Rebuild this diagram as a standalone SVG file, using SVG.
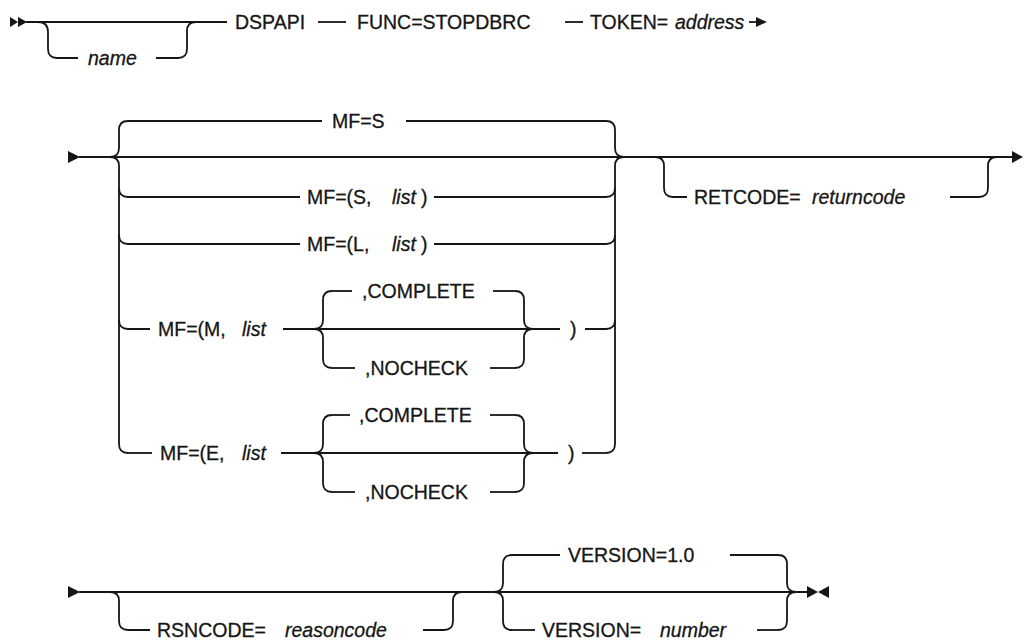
<svg xmlns="http://www.w3.org/2000/svg" width="1024" height="641" viewBox="0 0 1024 641">
<style>
text{font-family:"Liberation Sans",Arial,sans-serif;font-size:19.5px;fill:#161616;stroke:#161616;stroke-width:0.3}
.v{font-style:italic}
.ln{fill:none;stroke:#161616;stroke-width:1.8}
.ah{fill:#161616;stroke:none}
</style>
<rect width="1024" height="641" fill="#fff"/>
<g id="connectors">
<!-- row 1 -->
<polygon class="ah" points="10,17 18,22 10,27"/>
<polygon class="ah" points="18,17 27,22 18,27"/>
<path class="ln" d="M26,22 H227"/>
<path class="ln" d="M38,22 Q48,22 48,32 V49 Q48,58 57,58 H78"/>
<path class="ln" d="M156,58 H178 Q187,58 187,49 V31 Q187,22 196,22"/>
<path class="ln" d="M318,22 H346"/>
<path class="ln" d="M565,22 H583"/>
<path class="ln" d="M749,22 H758"/>
<polygon class="ah" points="756,17 767,22 756,27"/>
<!-- row 2 -->
<polygon class="ah" points="68,151 80,157 68,163"/>
<path class="ln" d="M79,157 H1014"/>
<polygon class="ah" points="1012,151 1023,157 1012,163"/>
<path class="ln" d="M128,121 Q119,121 119,130 V148 Q119,157 110,157 Q119,157 119,166 V444 Q119,453 128,453"/>
<path class="ln" d="M119,188 Q119,197 128,197 H300"/>
<path class="ln" d="M119,235 Q119,244 128,244 H300"/>
<path class="ln" d="M119,320 Q119,329 128,329 H150"/>
<path class="ln" d="M128,453 H152"/>
<path class="ln" d="M128,121 H322"/>
<path class="ln" d="M406,121 H606"/>
<path class="ln" d="M434,197 H606 Q615,197 615,188"/>
<path class="ln" d="M434,244 H606 Q615,244 615,235"/>
<path class="ln" d="M606,121 Q615,121 615,130 V148 Q615,157 624,157 Q615,157 615,166 V444 Q615,453 606,453"/>
<!-- MF=(M inner -->
<path class="ln" d="M283,329 H560"/>
<path class="ln" d="M332,291 Q323,291 323,300 V320 Q323,329 314,329 Q323,329 323,338 V359 Q323,368 332,368"/>
<path class="ln" d="M332,291 H352"/>
<path class="ln" d="M493,291 H515"/>
<path class="ln" d="M332,368 H355"/>
<path class="ln" d="M490,368 H515"/>
<path class="ln" d="M515,291 Q524,291 524,300 V320 Q524,329 533,329 Q524,329 524,338 V359 Q524,368 515,368"/>
<path class="ln" d="M585,329 H606 Q615,329 615,320"/>
<!-- MF=(E inner -->
<path class="ln" d="M281,453 H558"/>
<path class="ln" d="M332,415 Q323,415 323,424 V444 Q323,453 314,453 Q323,453 323,462 V483 Q323,492 332,492"/>
<path class="ln" d="M332,415 H350"/>
<path class="ln" d="M490,415 H515"/>
<path class="ln" d="M332,492 H355"/>
<path class="ln" d="M490,492 H515"/>
<path class="ln" d="M515,415 Q524,415 524,424 V444 Q524,453 533,453 Q524,453 524,462 V483 Q524,492 515,492"/>
<path class="ln" d="M582,453 H606"/>
<!-- RETCODE -->
<path class="ln" d="M655,157 Q664,157 664,166 V188 Q664,197 673,197 H687"/>
<path class="ln" d="M950,197 H979 Q988,197 988,188 V166 Q988,157 997,157"/>
<!-- row 3 -->
<polygon class="ah" points="68,586 80,592 68,598"/>
<path class="ln" d="M79,592 H808"/>
<polygon class="ah" points="807,586 818,592 807,598"/>
<polygon class="ah" points="829,586 818,592 829,598"/>
<path class="ln" d="M110,592 Q119,592 119,601 V621 Q119,630 128,630 H150"/>
<path class="ln" d="M423,630 H444 Q453,630 453,621 V601 Q453,592 462,592"/>
<path class="ln" d="M512,555 Q503,555 503,564 V583 Q503,592 494,592 Q503,592 503,601 V621 Q503,630 512,630"/>
<path class="ln" d="M512,555 H560"/>
<path class="ln" d="M730,555 H778"/>
<path class="ln" d="M512,630 H535"/>
<path class="ln" d="M757,630 H778"/>
<path class="ln" d="M778,555 Q787,555 787,564 V583 Q787,592 796,592 Q787,592 787,601 V621 Q787,630 778,630"/>
</g>
<g id="name"><text class="v" x="88" y="65">name</text></g>
<g id="dspapi"><text x="235" y="29">DSPAPI</text></g>
<g id="func"><text x="357" y="29">FUNC=STOPDBRC</text></g>
<g id="token"><text x="590" y="29">TOKEN=</text><text class="v" x="675" y="29">address</text></g>
<g id="mf-s"><text x="332" y="128">MF=S</text></g>
<g id="mf-s-list"><text x="307" y="204">MF=(S,</text><text class="v" x="392" y="204">list</text><text x="421" y="204">)</text></g>
<g id="mf-l-list"><text x="307" y="251">MF=(L,</text><text class="v" x="392" y="251">list</text><text x="421" y="251">)</text></g>
<g id="mf-m-list"><text x="158" y="336">MF=(M,</text><text class="v" x="242" y="336">list</text></g>
<g id="m-complete"><text x="362" y="298">,COMPLETE</text></g>
<g id="m-nocheck"><text x="365" y="375">,NOCHECK</text></g>
<g id="m-close"><text x="570" y="336">)</text></g>
<g id="mf-e-list"><text x="160" y="460">MF=(E,</text><text class="v" x="242" y="460">list</text></g>
<g id="e-complete"><text x="359" y="422">,COMPLETE</text></g>
<g id="e-nocheck"><text x="365" y="499">,NOCHECK</text></g>
<g id="e-close"><text x="568" y="460">)</text></g>
<g id="retcode"><text x="694" y="204">RETCODE=</text><text class="v" x="812" y="204">returncode</text></g>
<g id="rsncode"><text x="157" y="637">RSNCODE=</text><text class="v" x="285" y="637">reasoncode</text></g>
<g id="version-default"><text x="568" y="562">VERSION=1.0</text></g>
<g id="version-number"><text x="542" y="637">VERSION=</text><text class="v" x="660" y="637">number</text></g>
</svg>
